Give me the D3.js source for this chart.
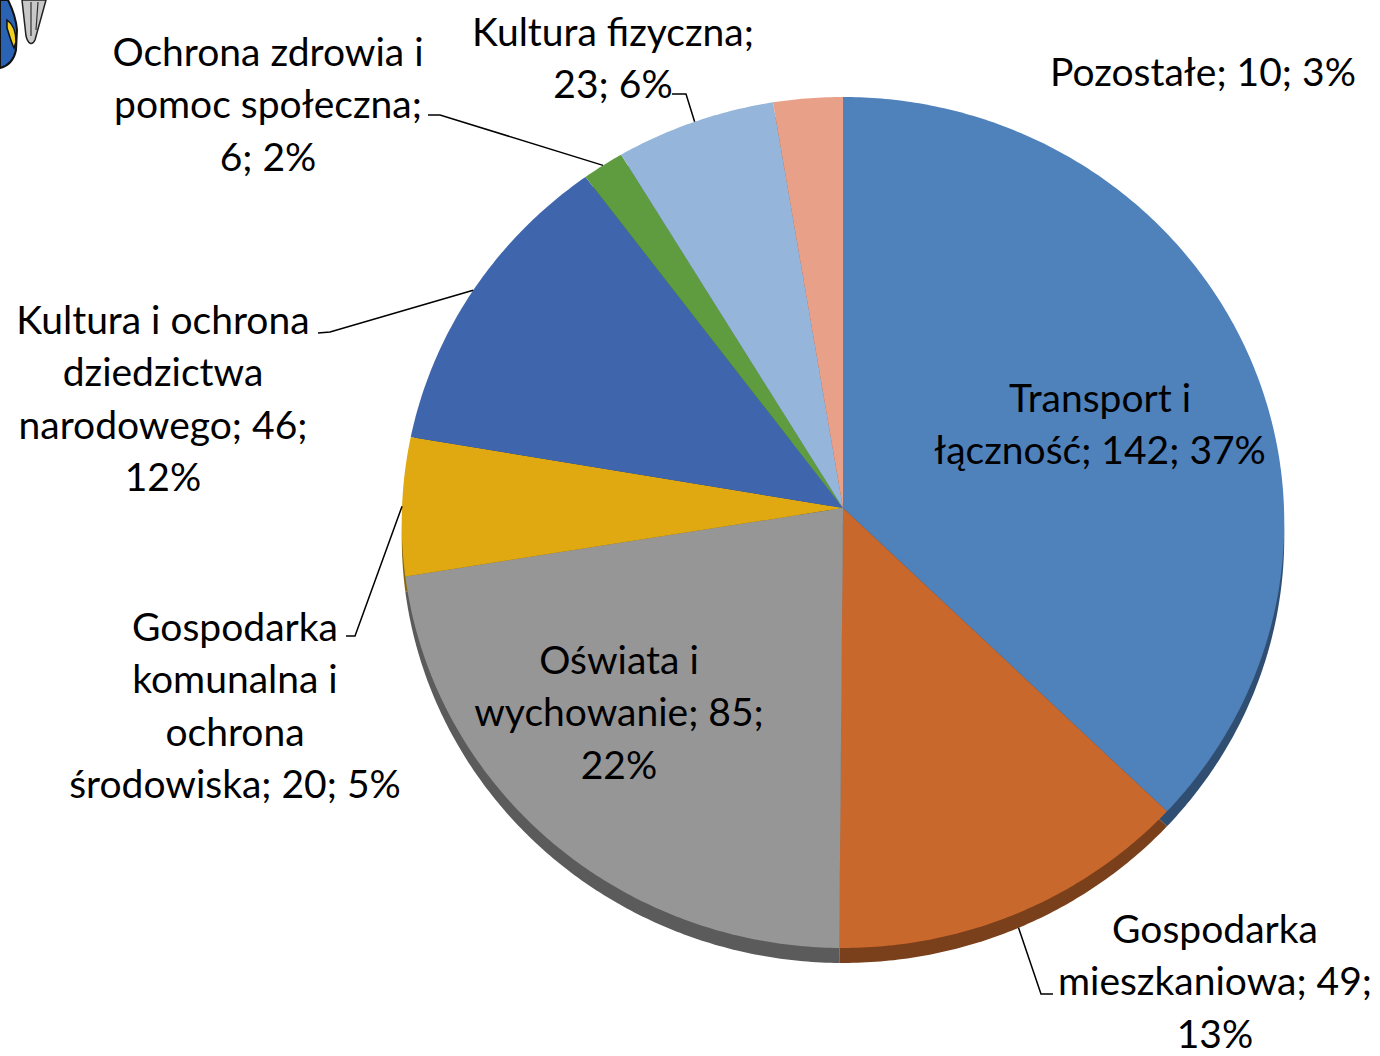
<!DOCTYPE html>
<html>
<head>
<meta charset="utf-8">
<title>Wydatki majątkowe</title>
<script src="https://d3js.org/d3.v7.min.js"></script>
<style>
  body { margin: 0; background: #fff; }
  svg text { font-family: Lato, "Open Sans", sans-serif; font-size: 39px; fill: #000; }
</style>
</head>
<body>
<div id="chart"></div>
<script>
// data
var categories = ["Transport i łączność", "Gospodarka mieszkaniowa", "Oświata i wychowanie",
  "Gospodarka komunalna i ochrona środowiska", "Kultura i ochrona dziedzictwa narodowego",
  "Ochrona zdrowia i pomoc społeczna", "Kultura fizyczna", "Pozostałe"];
var values = [142, 49, 85, 20, 46, 6, 23, 10];
var colors = ["#4f81ba", "#c9682c", "#969696", "#e0a912", "#3f66ac", "#5e9c3f", "#95b5da", "#e9a088"];

// how each label is broken into lines ({v} = value, {p} = percent)
var labelLines = [
  ["Transport i", "łączność; {v}; {p}%"],
  ["Gospodarka", "mieszkaniowa; {v};", "{p}%"],
  ["Oświata i", "wychowanie; {v};", "{p}%"],
  ["Gospodarka", "komunalna i", "ochrona", "środowiska; {v}; {p}%"],
  ["Kultura i ochrona", "dziedzictwa", "narodowego; {v};", "{p}%"],
  ["Ochrona zdrowia i", "pomoc społeczna;", "{v}; {p}%"],
  ["Kultura fizyczna;", "{v}; {p}%"],
  ["Pozostałe; {v}; {p}%"]
];

// layout: label centre x, first line centre y, leader elbow points (null = no leader)
var labelPos = [
  {x: 1100, y: 398, leader: null},
  {x: 1215, y: 929, leader: [[1041, 994], [1053, 994]]},
  {x: 619, y: 660, leader: null},
  {x: 235, y: 627, leader: [[355, 636], [346, 636]]},
  {x: 163, y: 320, leader: [[330, 332], [318, 333]]},
  {x: 268, y: 52, leader: [[440, 115], [428, 115]]},
  {x: 613, y: 32, leader: [[686, 94], [672, 94]]},
  {x: 1203, y: 72, leader: null}
];

var W = 1380, H = 1056;
var cx = 843, cy = 508, RX = 441, RY = 425, persp = 0.034, depth = 15, lineH = 52.5;

var svg = d3.select("#chart").append("svg")
  .attr("width", W).attr("height", H);

// bit of the mascot picture cut off in the corner
var pic = svg.append("g");
pic.append("path").attr("d", "M22,0 L26,36 C28,44 32,46 35,40 L46,0 Z")
  .attr("fill", "#c8c8c8").attr("stroke", "#222").attr("stroke-width", 1.5);
pic.append("path").attr("d", "M31,2 L31,36 M38,2 L36,30").attr("stroke", "#333").attr("stroke-width", 1.2);
pic.append("path").attr("d", "M0,0 L0,68 C8,66 14,60 16,50 L17,30 C16,18 12,8 8,0 Z")
  .attr("fill", "#2a62b4").attr("stroke", "#111").attr("stroke-width", 2);
pic.append("path").attr("d", "M7,20 C13,24 16,32 16,42 L14,48 C11,42 9,34 7,28 Z")
  .attr("fill", "#f2d020").attr("stroke", "#111").attr("stroke-width", 1.5);

var total = d3.sum(values);
var pie = d3.pie().sort(null).value(function(d) { return d; });
var arcs = pie(values);

// perspective-flattened circle
function proj(theta, r) {
  var u = Math.sin(theta) * r, v = -Math.cos(theta) * r;
  var s = 1 / (1 - persp * v);
  return [cx + RX * u * s, cy + RY * v * s];
}

var line = d3.line();
function slicePath(a) {
  var pts = [proj(0, 0)];
  var n = Math.max(4, Math.ceil((a.endAngle - a.startAngle) / 0.01));
  for (var i = 0; i <= n; i++) {
    pts.push(proj(a.startAngle + (a.endAngle - a.startAngle) * i / n, 1));
  }
  return line(pts) + "Z";
}

// side of the disc
svg.append("g").attr("transform", "translate(0," + depth + ")")
  .selectAll("path").data(arcs).enter().append("path")
  .attr("d", slicePath)
  .attr("fill", function(d, i) { return d3.color(colors[i]).darker(1.4); });

// top face
svg.append("g").selectAll("path").data(arcs).enter().append("path")
  .attr("d", slicePath)
  .attr("fill", function(d, i) { return colors[i]; });

// leader lines
arcs.forEach(function(a, i) {
  var lp = labelPos[i];
  if (!lp.leader) return;
  var mid = (a.startAngle + a.endAngle) / 2;
  var p = proj(mid, 1);
  if (-Math.cos(mid) > 0.3) p[1] += depth;
  svg.append("path")
    .attr("d", line([p].concat(lp.leader)))
    .attr("fill", "none").attr("stroke", "#000").attr("stroke-width", 1.5);
});

// labels
arcs.forEach(function(a, i) {
  var pct = Math.round(values[i] / total * 100);
  var lp = labelPos[i];
  var t = svg.append("text").attr("text-anchor", "middle");
  labelLines[i].forEach(function(s, k) {
    t.append("tspan")
      .attr("x", lp.x).attr("y", lp.y + k * lineH).attr("dy", "0.35em")
      .text(s.replace("{v}", values[i]).replace("{p}", pct));
  });
});
</script>
</body>
</html>
